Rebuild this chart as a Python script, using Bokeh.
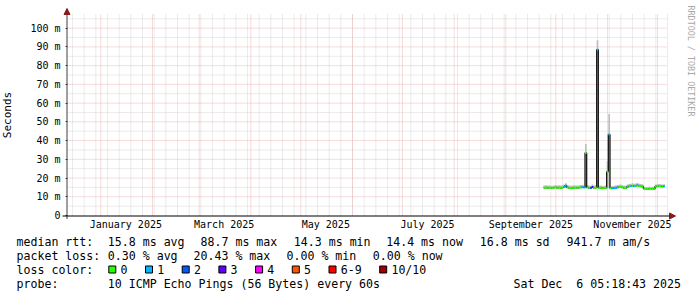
import math
import pandas as pd
from bokeh.plotting import figure
from bokeh.models import Range1d, FixedTicker, Label, Arrow, NormalHead, BoxAnnotation
from bokeh.embed import file_html
from bokeh.resources import INLINE

# ---------------- data ----------------
first_day = "2025-09-24"   # first consolidated day with data
median_ms = [
    14.8, 14.9, 14.8, 14.9, 14.8, 14.7, 14.9, 15.0, 14.8, 14.9,
    14.8, 14.9, 15.2, 16.0, 15.0, 14.8, 14.7, 14.8, 14.8, 14.9,
    14.8, 14.9, 15.0, 15.1, 15.0, 33.4, 15.0, 14.8, 14.7, 15.2,
    14.8, 14.9, 88.5, 14.7, 14.8, 14.6, 14.7, 14.8, 23.4, 43.2,
    14.6, 14.5, 14.7, 14.8, 15.0, 15.1, 15.2, 15.0, 14.8, 14.7,
    15.3, 15.6, 15.8, 16.0, 15.7, 15.9, 16.1, 15.8, 15.6, 15.5,
    14.3, 14.2, 14.2, 14.3, 14.2, 14.3, 14.2, 15.5, 15.6, 15.7,
    15.6, 15.5, 15.6,
]
smoke_hi_ms = [
    16.0, 16.1, 16.0, 16.0, 15.9, 15.9, 16.0, 16.2, 16.0, 16.1,
    16.0, 16.1, 16.6, 17.2, 16.2, 16.0, 15.9, 16.0, 16.1, 16.0,
    16.0, 16.1, 16.3, 16.4, 16.2, 38.2, 16.3, 16.0, 15.9, 16.6,
    16.0, 16.1, 93.6, 15.9, 16.0, 15.8, 15.9, 16.0, 29.0, 54.2,
    15.8, 15.7, 15.9, 16.0, 16.3, 16.4, 16.5, 16.2, 16.0, 15.9,
    16.5, 16.8, 17.0, 17.2, 16.9, 17.1, 17.3, 17.0, 16.8, 16.7,
    15.3, 15.2, 15.2, 15.3, 15.2, 15.3, 15.2, 16.6, 16.7, 16.8,
    16.7, 16.6, 16.7,
]
smoke_lo_ms = [
    14.4, 14.5, 14.4, 14.5, 14.4, 14.3, 14.5, 14.6, 14.4, 14.5,
    14.4, 14.5, 14.7, 15.1, 14.6, 14.4, 14.3, 14.4, 14.4, 14.5,
    14.4, 14.5, 14.6, 14.7, 14.6, 14.6, 14.6, 14.4, 14.3, 14.7,
    14.4, 14.5, 14.5, 14.3, 14.4, 14.2, 14.3, 14.4, 14.4, 14.5,
    14.2, 14.1, 14.3, 14.4, 14.6, 14.7, 14.8, 14.6, 14.4, 14.3,
    14.9, 15.1, 15.3, 15.5, 15.2, 15.4, 15.6, 15.3, 15.1, 15.0,
    13.9, 13.8, 13.8, 13.9, 13.8, 13.9, 13.8, 15.0, 15.1, 15.2,
    15.1, 15.0, 15.1,
]
loss_count = [
    0, 0, 0, 0, 0, 0, 0, 0, 0, 0,
    0, 0, 1, 1, 0, 0, 0, 0, 0, 0,
    0, 0, 0, 1, 1, 0, 0, 0, 2, 3,
    0, 0, 1, 0, 0, 0, 0, 0, 0, 1,
    0, 1, 1, 1, 1, 0, 0, 0, 0, 0,
    1, 0, 1, 0, 1, 0, 1, 0, 0, 0,
    0, 0, 0, 0, 0, 0, 0, 0, 0, 0,
    0, 0, 1,
]
loss_colors = ["#26ff00", "#00b8ff", "#0059ff", "#5e00ff", "#ff00fe", "#ff5500", "#ff0000", "#a10000"]
loss_labels = ["0", "1", "2", "3", "4", "5", "6-9", "10/10"]

x_tick_labels = ["January 2025", "March 2025", "May 2025", "July 2025", "September 2025", "November 2025"]
x_tick_dates = ["2025-01-16", "2025-03-16", "2025-05-16", "2025-07-16", "2025-09-16", "2025-11-16"]
y_tick_values = [0, 10, 20, 30, 40, 50, 60, 70, 80, 90, 100]
y_tick_labels = ["0", "10 m", "20 m", "30 m", "40 m", "50 m", "60 m", "70 m", "80 m", "90 m", "100 m"]

legend_rtt = ["median rtt:", "15.8 ms avg", "88.7 ms max", "14.3 ms min", "14.4 ms now", "16.8 ms sd", "941.7 m am/s"]
legend_loss = ["packet loss:", "0.30 % avg", "20.43 % max", "0.00 % min", "0.00 % now"]
probe_text = ["probe:", "10 ICMP Echo Pings (56 Bytes) every 60s"]
stamp_text = "Sat Dec \u00a06 05:18:43 2025"
y_axis_title = "Seconds"
watermark = "RRDTOOL / TOBI OETIKER"

range_start = "2024-12-12"
range_end = "2025-12-07"
y_top_ms = 107.3

# ---------------- helpers ----------------
def ms(ts):
    return pd.Timestamp(ts).value / 1e6

W, H = 697, 297
X0, X1 = ms(range_start), ms(range_end)
DAY = 86400000.0
FL, FW, FB, FH = 67, 600, 215, 201   # chart area: left, width, bottom, height (px)

def xd(px):
    return X0 + (px - FL) * (X1 - X0) / FW

def yd(py):
    return (FB - py) * y_top_ms / FH

days = pd.date_range(first_day, periods=len(median_ms), freq="D")
xs = [ms(d) for d in days]

def loss_color(n):
    if n <= 5:
        return loss_colors[n]
    if n < 10:
        return loss_colors[6]
    return loss_colors[7]

seg_colors = [loss_color(n) for n in loss_count]

FONT = "DejaVu Sans Mono"
MGRID = "#ecb8b8"
GRID = "#d6d6d6"
AXIS = "#404040"
ARROW = "#8b1a1a"

# the figure's frame spans the whole canvas; the chart area is placed by the ranges
p = figure(width=W, height=H, x_axis_type="datetime",
           x_range=Range1d(xd(0), xd(W)), y_range=Range1d(yd(H), yd(0)),
           output_backend="svg", toolbar_location=None,
           min_border=0, min_border_left=0, min_border_right=0, min_border_top=0, min_border_bottom=0,
           background_fill_color="white", border_fill_color="white")
p.outline_line_color = None
p.xgrid.visible = False
p.ygrid.visible = False

# grid lines (dotted), bounded to the chart area
month_starts = [ms(d) for d in pd.date_range(range_start, range_end, freq="MS")]
sundays = [ms(d) for d in pd.date_range(range_start, range_end, freq="W-SUN")]
y_minor = [v + 5 for v in y_tick_values]
p.segment(x0=sundays, x1=sundays, y0=[0] * len(sundays), y1=[y_top_ms] * len(sundays),
          line_color=GRID, line_dash="1 1", line_width=1)
p.segment(x0=[X0] * len(y_minor), x1=[X1] * len(y_minor), y0=y_minor, y1=y_minor,
          line_color=GRID, line_dash="1 1", line_width=1)
p.segment(x0=month_starts, x1=month_starts, y0=[0] * len(month_starts), y1=[y_top_ms] * len(month_starts),
          line_color=MGRID, line_dash="1 1", line_width=1)
p.segment(x0=[X0] * (len(y_tick_values) - 1), x1=[X1] * (len(y_tick_values) - 1),
          y0=y_tick_values[1:], y1=y_tick_values[1:], line_color=MGRID, line_dash="1 1", line_width=1)

# x axis
xa = p.xaxis[0]
xa.fixed_location = 0
xa.ticker = FixedTicker(ticks=[ms(d) for d in x_tick_dates])
xa.major_label_overrides = {ms(d): lab for d, lab in zip(x_tick_dates, x_tick_labels)}
xa.axis_line_color = None
xa.major_tick_line_color = None
xa.minor_tick_line_color = None
xa.major_tick_out = 0
xa.major_tick_in = 0
xa.major_label_standoff = 3
xa.major_label_text_font = FONT
xa.major_label_text_font_size = "10px"
xa.major_label_text_color = "black"

# y axis
ya = p.yaxis[0]
ya.fixed_location = X0
ya.bounds = (0, y_top_ms)
ya.ticker = FixedTicker(ticks=y_tick_values)
ya.major_label_overrides = {v: lab for v, lab in zip(y_tick_values, y_tick_labels)}
ya.axis_line_color = None
ya.major_tick_line_color = AXIS
ya.major_tick_out = 2
ya.major_tick_in = 0
ya.minor_tick_line_color = None
ya.major_label_standoff = 5
ya.major_label_text_font = FONT
ya.major_label_text_font_size = "10px"
ya.major_label_text_color = "black"
ya.axis_label = y_axis_title
ya.axis_label_text_font = FONT
ya.axis_label_text_font_style = "normal"
ya.axis_label_text_font_size = "11px"
ya.axis_label_text_color = "black"
ya.axis_label_standoff = 13

# smoke
p.vbar(x=xs, top=smoke_hi_ms, bottom=smoke_lo_ms, width=DAY, fill_color="#bdbdbd", line_color=None)
# median: dark transitions then loss-coloured levels
p.step(x=xs, y=median_ms, mode="center", line_color="#1c1c1c", line_width=1.3)
p.segment(x0=[x - DAY / 2 for x in xs], x1=[x + DAY / 2 for x in xs], y0=median_ms, y1=median_ms,
          line_color=seg_colors, line_width=2)

# axis lines with arrows
p.add_layout(Arrow(x_start=xd(66.5), y_start=yd(218.5), x_end=xd(66.5), y_end=yd(8),
                   line_color=AXIS, line_width=1,
                   end=NormalHead(size=6, fill_color=ARROW, line_color=ARROW, line_width=1)))
p.add_layout(Arrow(x_start=xd(62), y_start=yd(215.5), x_end=xd(675), y_end=yd(215.5),
                   line_color="black", line_width=1,
                   end=NormalHead(size=6, fill_color=ARROW, line_color=ARROW, line_width=1)))

def txt(x, y, s, align="left", size="11.6px", color="black", angle=0.0):
    p.add_layout(Label(x=xd(x), y=yd(y), text=s, text_font=FONT, text_font_size=size,
                       text_color=color, text_align=align, text_baseline="middle", angle=angle))

rtt_x = [16, 107.3, 200, 293.3, 385.7, 479.3, 566]
for xx, s in zip(rtt_x, legend_rtt):
    txt(xx, 241, s)
loss_x = [16, 107.3, 193, 286, 372.3]
for xx, s in zip(loss_x, legend_loss):
    txt(xx, 255, s)
txt(16, 269, "loss color:")
bx = 108.3
for c, lab in zip(loss_colors, loss_labels):
    p.add_layout(BoxAnnotation(left=xd(bx), right=xd(bx + 7), top=yd(265.5), bottom=yd(272.5),
                               fill_color=c, fill_alpha=1.0, line_color="black", line_width=1,
                               line_alpha=1.0))
    txt(bx + 11.7, 269, lab)
    bx += 11.7 + 7.0 * len(lab) + 18.0
txt(16, 283, probe_text[0])
txt(107.3, 283, probe_text[1])
txt(680.5, 283, stamp_text, align="right")
txt(690.5, 5, watermark, size="8.4px", color="#a8a8a8", angle=-math.pi / 2)

open("out.html", "w").write(file_html(p, INLINE))
